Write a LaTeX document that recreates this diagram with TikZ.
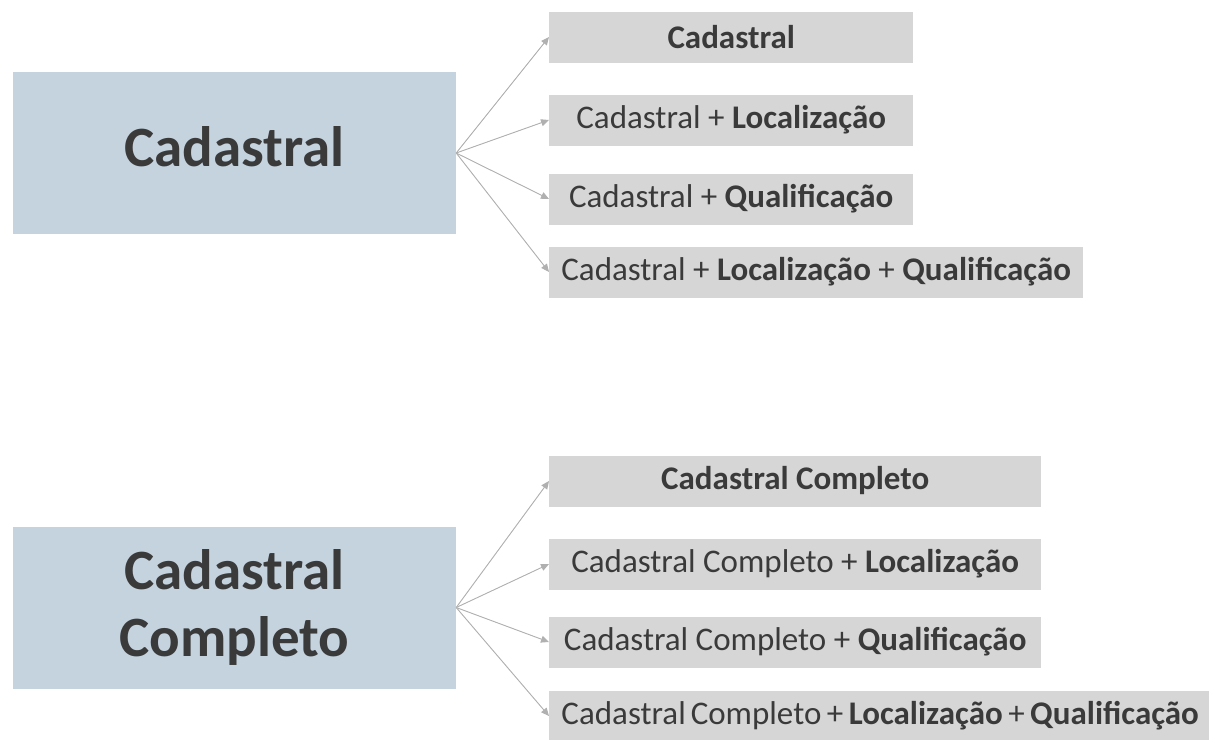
\documentclass[tikz,border=0pt]{standalone}
\usepackage{fontspec}
\setmainfont{Carlito}
\usepackage{xcolor}
\usetikzlibrary{arrows.meta}

\definecolor{srcblue}{HTML}{C5D3DF}
\definecolor{optgrey}{HTML}{D6D6D6}
\definecolor{linkgrey}{HTML}{B0B0B0}
\definecolor{txtdark}{HTML}{3A3A3A}

\begin{document}
\begin{tikzpicture}[
    x=1pt, y=-1pt,
    source/.style={rectangle, fill=srcblue, minimum width=443pt, minimum height=162pt, align=center, text=txtdark, font=\fontsize{57}{67}\selectfont\bfseries},
    option/.style={rectangle, fill=optgrey, anchor=west, minimum height=51pt, inner xsep=0pt, text=txtdark, font=\fontsize{33}{40}\selectfont},
    arrow/.style={-{Triangle[length=8pt, width=7pt]}, draw=linkgrey, fill=linkgrey, line width=0.9pt}
]
    \clip (0,0) rectangle (1209,739);

    % Main components
    \node[source, text height=40pt, text depth=14pt] (cad) at (234.5,153) {Cadastral};
    \node[source] (cadfull) at (234.5,607.5) {Cadastral\\Completo};

    % Options for Cadastral
    \node[option, minimum width=364pt] (cadA) at (549,37) {\textbf{Cadastral}};
    \node[option, minimum width=364pt] (cadB) at (549,120) {Cadastral + \textbf{Localização}};
    \node[option, minimum width=364pt] (cadC) at (549,199) {Cadastral + \textbf{Qualificação}};
    \node[option, minimum width=534pt] (cadD) at (549,272) {Cadastral + \textbf{Localização} + \textbf{Qualificação}};

    % Options for Cadastral Completo
    \node[option, minimum width=492pt] (fullA) at (549,481) {\textbf{Cadastral Completo}};
    \node[option, minimum width=492pt] (fullB) at (549,564) {Cadastral Completo + \textbf{Localização}};
    \node[option, minimum width=492pt] (fullC) at (549,642) {Cadastral Completo + \textbf{Qualificação}};
    \node[option, minimum width=662pt] (fullD) at (549,716) {\spaceskip=0.15em Cadastral Completo\,+\,\textbf{Localização}\,+\,\textbf{Qualificação}};

    % Connections
    \foreach \t in {cadA, cadB, cadC, cadD}
        \draw[arrow] (cad.east) -- (\t.west);
    \foreach \t in {fullA, fullB, fullC, fullD}
        \draw[arrow] (cadfull.east) -- (\t.west);

\end{tikzpicture}
\end{document}
